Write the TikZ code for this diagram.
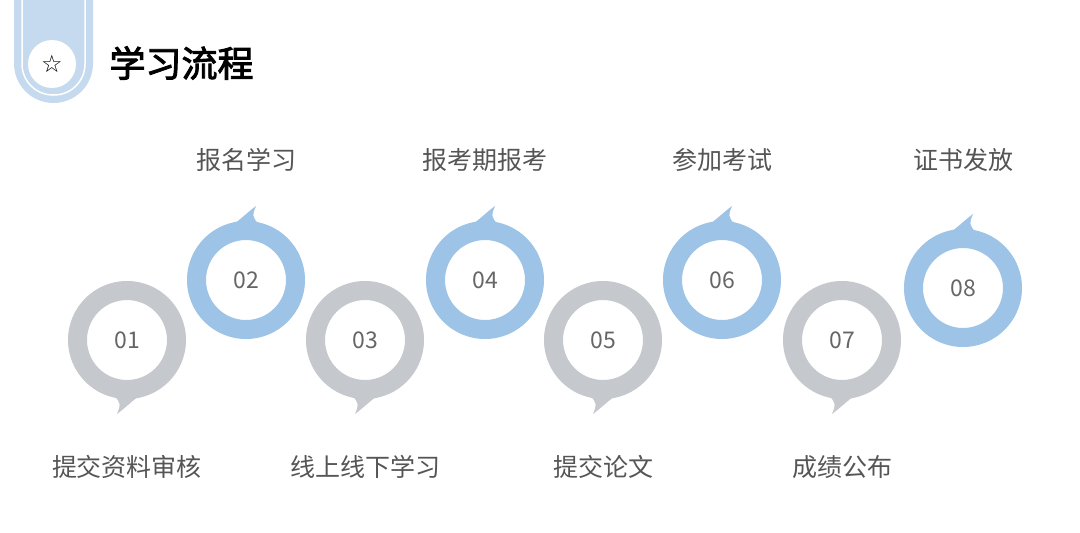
\documentclass[tikz,border=0pt]{standalone}
\usepackage{fontspec}
\setmainfont{Noto Sans CJK SC}
\newfontfamily\cjkb[FakeBold=2.5]{Noto Sans CJK SC}
\newfontfamily\sym{DejaVu Sans}
\definecolor{rblue}{HTML}{9DC3E6}
\definecolor{rgray}{HTML}{C5C8CD}
\definecolor{hblue}{HTML}{C5DAEE}
\definecolor{tgray}{HTML}{555555}
\begin{document}
\begin{tikzpicture}[x=1pt,y=-1pt,
  num/.style={font=\fontsize{23}{23}\selectfont, text=tgray!90},
  lab/.style={font=\fontsize{25}{25}\selectfont, text=tgray}]
\useasboundingbox[fill=white] (0,0) rectangle (1080,533);
% header
\fill[hblue,rounded corners=39.5pt] (14,-60) rectangle (93,103);
\draw[white,line width=1.5pt,rounded corners=31pt] (22,-60) rectangle (85,95);
\node[circle,fill=white,minimum size=48pt,inner sep=0] (star) at (52,64) {\sym\fontsize{24}{24}\selectfont ☆};
\node[anchor=west,font=\cjkb\fontsize{36}{36}\selectfont] (title) at (106,63) {学习流程};
% rings
\foreach \i/\x/\y/\c/\d in {1/127/340/rgray/1,2/246/280/rblue/-1,3/365/340/rgray/1,4/485/280/rblue/-1,5/603/340/rgray/1,6/722/280/rblue/-1,7/842/340/rgray/1,8/963/288/rblue/-1}{
  \fill[\c] (\x-13*\d,\y+55*\d) .. controls (\x-6*\d,\y+64*\d) .. (\x-10*\d,\y+74*\d)
     .. controls (\x-2*\d,\y+68*\d) and (\x+4*\d,\y+62*\d) .. (\x+12*\d,\y+56*\d) -- cycle;
  \fill[\c,even odd rule] (\x,\y) circle[radius=59] (\x,\y) circle[radius=40];
  \node[num] (n\i) at (\x,\y) {0\i};
}
\node[lab] (l2) at (246,160) {报名学习};
\node[lab] (l4) at (485,160) {报考期报考};
\node[lab] (l6) at (722,160) {参加考试};
\node[lab] (l8) at (963,160) {证书发放};
\node[lab] (l1) at (127,467) {提交资料审核};
\node[lab] (l3) at (365,467) {线上线下学习};
\node[lab] (l5) at (603,467) {提交论文};
\node[lab] (l7) at (842,467) {成绩公布};
\end{tikzpicture}
\end{document}
